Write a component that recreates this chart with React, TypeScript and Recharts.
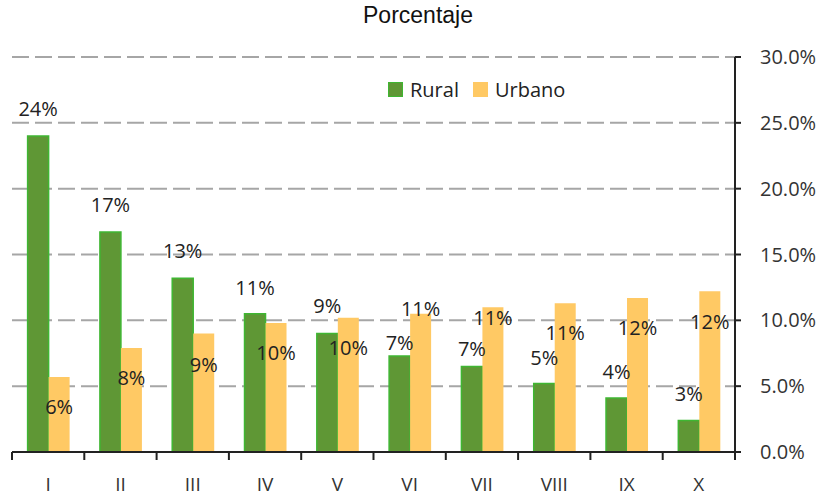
import React from "react";
import { Bar, BarChart, CartesianGrid, LabelList, Legend, XAxis, YAxis } from "recharts";

const categories = ["I", "II", "III", "IV", "V", "VI", "VII", "VIII", "IX", "X"];
const rural = [24.0, 16.7, 13.2, 10.5, 9.0, 7.3, 6.5, 5.2, 4.1, 2.4];
const urbano = [5.7, 7.9, 9.0, 9.8, 10.2, 10.5, 11.0, 11.3, 11.7, 12.2];
const ruralLabels = ["24%", "17%", "13%", "11%", "9%", "7%", "7%", "5%", "4%", "3%"];
const urbanoLabels = ["6%", "8%", "9%", "10%", "10%", "11%", "11%", "11%", "12%", "12%"];
const yTicks = [0, 5, 10, 15, 20, 25, 30];

// label placement relative to bar top (px, positive = downwards), as moved by hand in the original
const ruralLabelDy = [-28, -28, -28, -26, -28, -13, -18, -26, -27, -27];
const urbanoLabelDy = [30, 30, 31, 30, 30, -5, 10, 29, 30, 30];

const FONT = "'Open Sans', Lato, sans-serif";
const RURAL_FILL = "#5f9735";
const RURAL_STROKE = "#3fb632";
const URBANO_FILL = "#ffc964";

const data = categories.map((c, i) => ({
  cat: c,
  rural: rural[i],
  urbano: urbano[i],
}));

const makeLabel = (labels: string[], dys: number[]) => (props: any) => {
  const { x, y, width, index } = props;
  return (
    <text
      x={Number(x) + Number(width) / 2}
      y={Number(y) + dys[index]}
      textAnchor="middle"
      dominantBaseline="central"
      fontFamily={FONT}
      fontSize={20}
      fill="#222"
    >
      {labels[index]}
    </text>
  );
};

function CategoryTick(props: any) {
  const { x, y, payload, index, width, visibleTicksCount } = props;
  const half = payload?.offset || width / visibleTicksCount / 2;
  const last = index === visibleTicksCount - 1;
  return (
    <g>
      <line x1={x - half} x2={x - half} y1={y} y2={y + 8} stroke="#222" strokeWidth={2} />
      {last && <line x1={x + half} x2={x + half} y1={y} y2={y + 8} stroke="#222" strokeWidth={2} />}
      <text x={x} y={y + 39} textAnchor="middle" fontFamily={FONT} fontSize={19} fill="#333">
        {payload.value}
      </text>
    </g>
  );
}

function LegendContent() {
  const items = [
    { name: "Rural", fill: RURAL_FILL, stroke: RURAL_STROKE },
    { name: "Urbano", fill: URBANO_FILL, stroke: URBANO_FILL },
  ];
  return (
    <div style={{ display: "flex", alignItems: "center", fontFamily: FONT, fontSize: 20, color: "#222" }}>
      {items.map((it) => (
        <div key={it.name} style={{ display: "flex", alignItems: "center", marginRight: 14 }}>
          <span
            style={{
              width: 13,
              height: 13,
              background: it.fill,
              border: `1px solid ${it.stroke}`,
              marginRight: 7,
              display: "inline-block",
            }}
          />
          <span>{it.name}</span>
        </div>
      ))}
    </div>
  );
}

export default function App() {
  return (
    <div style={{ position: "absolute", left: 0, top: 0, width: 828, height: 497, background: "#fff" }}>
      <div
        style={{
          position: "absolute",
          left: 0,
          top: 2,
          width: 836,
          textAlign: "center",
          fontFamily: "'Liberation Sans', Arial, sans-serif",
          fontSize: 23,
          color: "#111",
        }}
      >
        Porcentaje
      </div>
      <BarChart
        width={828}
        height={497}
        data={data}
        margin={{ top: 57, right: 0, left: 12, bottom: 0 }}
        barCategoryGap="21.6%"
        barGap={0}
      >
        <CartesianGrid vertical={false} stroke="#a6a6a6" strokeWidth={2} strokeDasharray="17 6" />
        <XAxis
          dataKey="cat"
          height={45}
          tickSize={0}
          tickMargin={0}
          tickLine={false}
          axisLine={{ stroke: "#222", strokeWidth: 2 }}
          tick={<CategoryTick />}
          interval={0}
        />
        <YAxis
          orientation="right"
          width={93}
          domain={[0, 30]}
          ticks={yTicks}
          tickFormatter={(v: number) => `${v.toFixed(1)}%`}
          axisLine={{ stroke: "#222", strokeWidth: 2 }}
          tickLine={{ stroke: "#222", strokeWidth: 2 }}
          tickSize={6}
          tickMargin={19}
          tick={{ fontFamily: FONT, fontSize: 20, fill: "#333" }}
        />
        <Legend
          layout="horizontal"
          verticalAlign="middle"
          align="center"
          content={<LegendContent />}
          wrapperStyle={{ left: 388, top: 76, width: "auto" }}
        />
        <Bar dataKey="rural" name="Rural" fill={RURAL_FILL} stroke={RURAL_STROKE} strokeWidth={1.5} isAnimationActive={false}>
          <LabelList dataKey="rural" content={makeLabel(ruralLabels, ruralLabelDy)} />
        </Bar>
        <Bar dataKey="urbano" name="Urbano" fill={URBANO_FILL} isAnimationActive={false}>
          <LabelList dataKey="urbano" content={makeLabel(urbanoLabels, urbanoLabelDy)} />
        </Bar>
      </BarChart>
    </div>
  );
}
